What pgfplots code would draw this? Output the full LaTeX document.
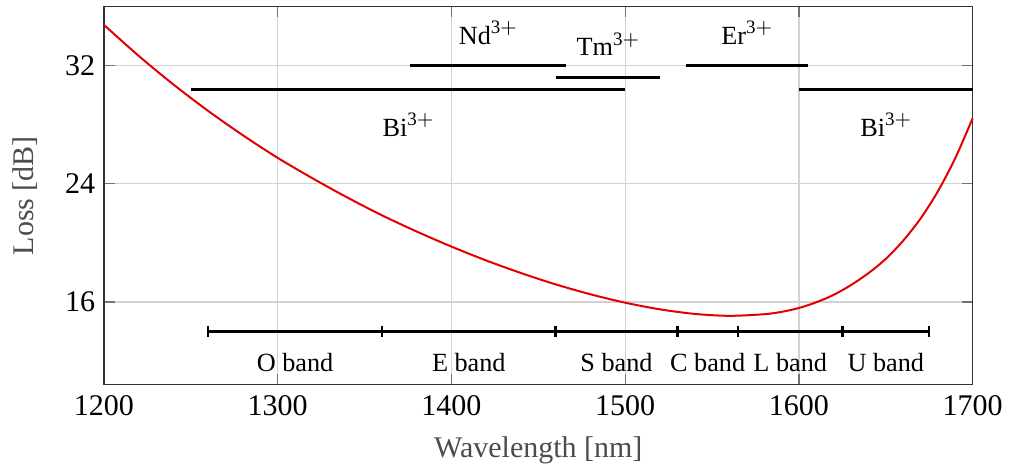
\documentclass[border=0pt]{standalone}
\usepackage{fontspec}
\setmainfont{Liberation Serif}
\usepackage{pgfplots}
\pgfplotsset{compat=1.18}
\usepackage{pgfplotstable}
\newcommand\ion[1]{#1\raisebox{4.2pt}{\fontsize{7.6}{9}\selectfont 3$+$}}
\pgfplotstableread{
wl loss
1200 34.77
1220 32.67
1240 30.73
1260 28.94
1280 27.29
1300 25.76
1320 24.38
1340 23.08
1360 21.87
1380 20.77
1400 19.75
1420 18.81
1440 17.96
1460 17.19
1480 16.52
1500 15.95
1520 15.50
1540 15.19
1560 15.06
1580 15.17
1590 15.33
1600 15.59
1610 15.98
1620 16.48
1630 17.15
1640 17.95
1650 18.92
1660 20.15
1670 21.65
1680 23.50
1690 25.75
1700 28.45
}\losstable
\begin{document}
\begin{tikzpicture}
\begin{axis}[
  scale only axis,
  width=347.6pt, height=151.2pt,
  xmin=1200, xmax=1700, ymin=10.4, ymax=36,
  xtick={1200,1300,...,1700},
  ytick={16,24,32},
  grid=major,
  major grid style={gray!35, line width=0.5pt},
  major tick style={black!55, line width=0.5pt},
  axis line style={black!80, line width=0.6pt},
  /pgf/number format/assume math mode=true,
  /pgf/number format/1000 sep={},
  tick label style={font=\fontsize{12}{14}\selectfont},
  xticklabel style={yshift=-1pt},
  xlabel={Wavelength [nm]},
  ylabel={Loss [dB]},
  label style={font=\fontsize{12}{14}\selectfont, text=black!70},
  xlabel style={at={(axis description cs:0.5,-0.1923)}, anchor=base},
  ylabel style={at={(axis description cs:-0.0909,0.5)}, anchor=center},
  clip=false,
]
\addplot[red!90!black, line width=0.8pt, smooth] table[x=wl, y=loss] {\losstable};
% ion ranges
\addplot[black, line width=1.2pt] coordinates {(1250,30.40) (1500,30.40)};
\addplot[black, line width=1.2pt] coordinates {(1600,30.40) (1700,30.40)};
\addplot[black, line width=1.2pt] coordinates {(1376,32) (1466,32)};
\addplot[black, line width=1.2pt] coordinates {(1460,31.21) (1520,31.21)};
\addplot[black, line width=1.2pt] coordinates {(1535,32) (1605,32)};
% telecom bands
\addplot[black, line width=1.2pt, mark=|, mark size=2.2pt, mark options={line width=1pt}] coordinates {(1260,13.97) (1360,13.97) (1460,13.97) (1530,13.97) (1565,13.97) (1625,13.97) (1675,13.97)};
\begin{scope}[every node/.style={font=\fontsize{10.5}{12}\selectfont, anchor=base}]
\node at (axis cs:1375,27.23) {\ion{Bi}};
\node at (axis cs:1650,27.23) {\ion{Bi}};
\node at (axis cs:1421,33.47) {\ion{Nd}};
\node at (axis cs:1490,32.68) {\ion{Tm}};
\node at (axis cs:1570,33.47) {\ion{Er}};
\node at (axis cs:1310,11.27) {O band};
\node at (axis cs:1410,11.27) {E band};
\node at (axis cs:1495,11.27) {S band};
\node at (axis cs:1547.5,11.27) {C band};
\node at (axis cs:1595,11.27) {L band};
\node at (axis cs:1650,11.27) {U band};
\end{scope}
\end{axis}
\path (current axis.south west) ++(-41.6pt,-34pt);
\path (current axis.north east) ++(15.2pt,2.7pt);
\end{tikzpicture}
\end{document}
